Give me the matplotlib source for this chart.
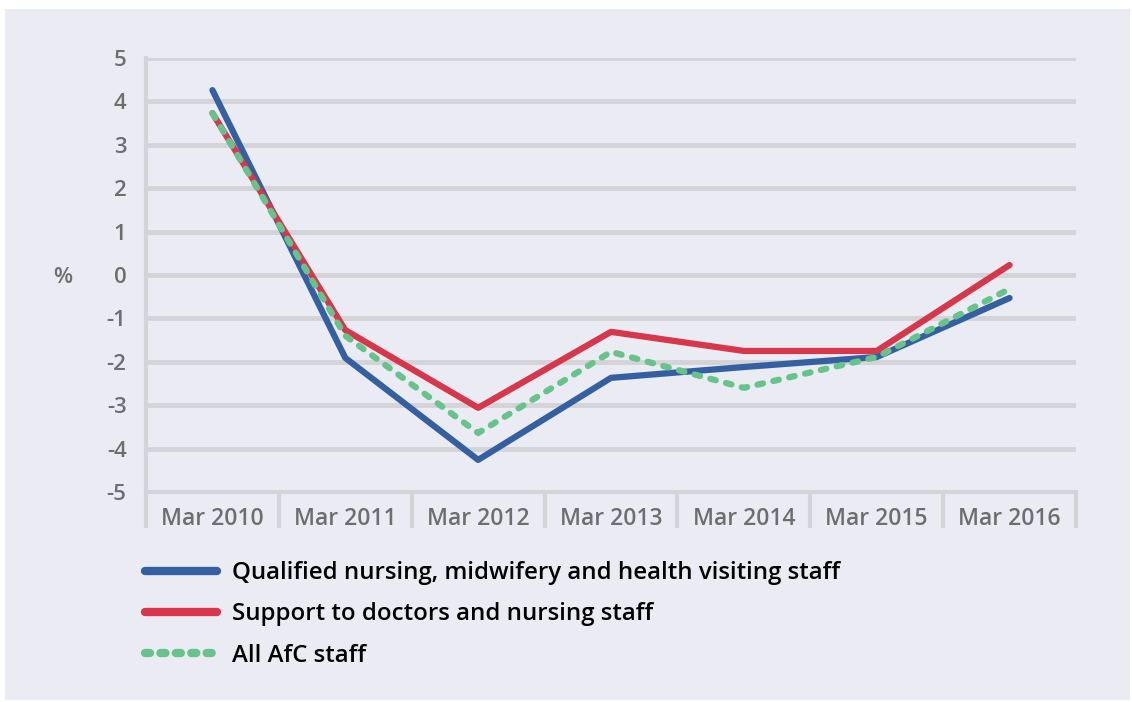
import matplotlib.pyplot as plt
import matplotlib.patches as mpatches
import numpy as np

# data
years = ["Mar 2010", "Mar 2011", "Mar 2012", "Mar 2013", "Mar 2014", "Mar 2015", "Mar 2016"]
qualified = [4.26, -1.91, -4.26, -2.37, -2.12, -1.89, -0.53]
support = [3.73, -1.27, -3.06, -1.31, -1.75, -1.75, 0.23]
all_afc = [3.73, -1.40, -3.64, -1.77, -2.60, -1.89, -0.32]

BG = "#EBEBF4"
GRID = "#D4D4D8"
TICK_COL = "#6E6E6E"

plt.rcParams["font.family"] = ["Open Sans", "DejaVu Sans"]

fig = plt.figure(figsize=(11.32, 7.02), dpi=100)
fig.patch.set_facecolor("white")
fig.patches.append(mpatches.Rectangle((5 / 1132, 1 - 700 / 702), 1125 / 1132, 691 / 702,
                                      transform=fig.transFigure, facecolor=BG,
                                      edgecolor="none", zorder=-10))

ax = fig.add_axes([146 / 1132, 1 - 492 / 702, 930 / 1132, 434 / 702])
ax.set_facecolor("none")

x = np.arange(len(years)) + 0.5
ax.plot(x, qualified, color="#345FA0", lw=4.5, solid_capstyle="round", zorder=3,
        label="Qualified nursing, midwifery and health visiting staff")
ax.plot(x, support, color="#D8364B", lw=4.5, solid_capstyle="round", zorder=3,
        label="Support to doctors and nursing staff")
ax.plot(x, all_afc, color="#66C48A", lw=4.5, linestyle=(0, (0.9, 1.7)),
        dash_capstyle="round", zorder=4, label="All AfC staff")

ax.set_xlim(0, len(years))
ax.set_ylim(-5, 5)
ax.set_yticks(range(-5, 6))
ax.set_yticklabels([str(v) for v in range(-5, 6)])
ax.grid(True, axis="y", color=GRID, lw=3.5, zorder=0)
ax.tick_params(axis="y", length=0, pad=14, labelsize=16, labelcolor=TICK_COL)

# category boundaries as long ticks, labels on minor ticks
ax.set_xticks(range(len(years) + 1))
ax.set_xticklabels([])
ax.set_xticks(x, minor=True)
ax.set_xticklabels(years, minor=True)
ax.tick_params(axis="x", which="major", length=26, width=3, color=GRID)
ax.tick_params(axis="x", which="minor", length=0, pad=11, labelsize=16.5, labelcolor=TICK_COL)

for side in ["top", "right"]:
    ax.spines[side].set_visible(False)
for side in ["left", "bottom"]:
    ax.spines[side].set_color(GRID)
    ax.spines[side].set_linewidth(3)

for lab in ax.get_xticklabels(minor=True) + ax.get_yticklabels():
    lab.set_fontweight("semibold")

fig.text(63 / 1132, 1 - 277 / 702, "%", fontsize=16, color=TICK_COL,
         ha="center", va="center", fontweight="semibold")

leg = fig.legend(loc="upper left", bbox_to_anchor=(145 / 1132, 1 - 561 / 702),
                 frameon=False, borderpad=0, borderaxespad=0,
                 handlelength=3.0, handletextpad=0.6,
                 labelspacing=0.72, prop={"size": 17.3, "weight": "semibold"})
for h in leg.get_lines():
    h.set_linewidth(6)
leg.get_lines()[2].set_linestyle((0, (0.6, 1.25)))

plt.savefig("out.png", dpi=100, facecolor="white")
